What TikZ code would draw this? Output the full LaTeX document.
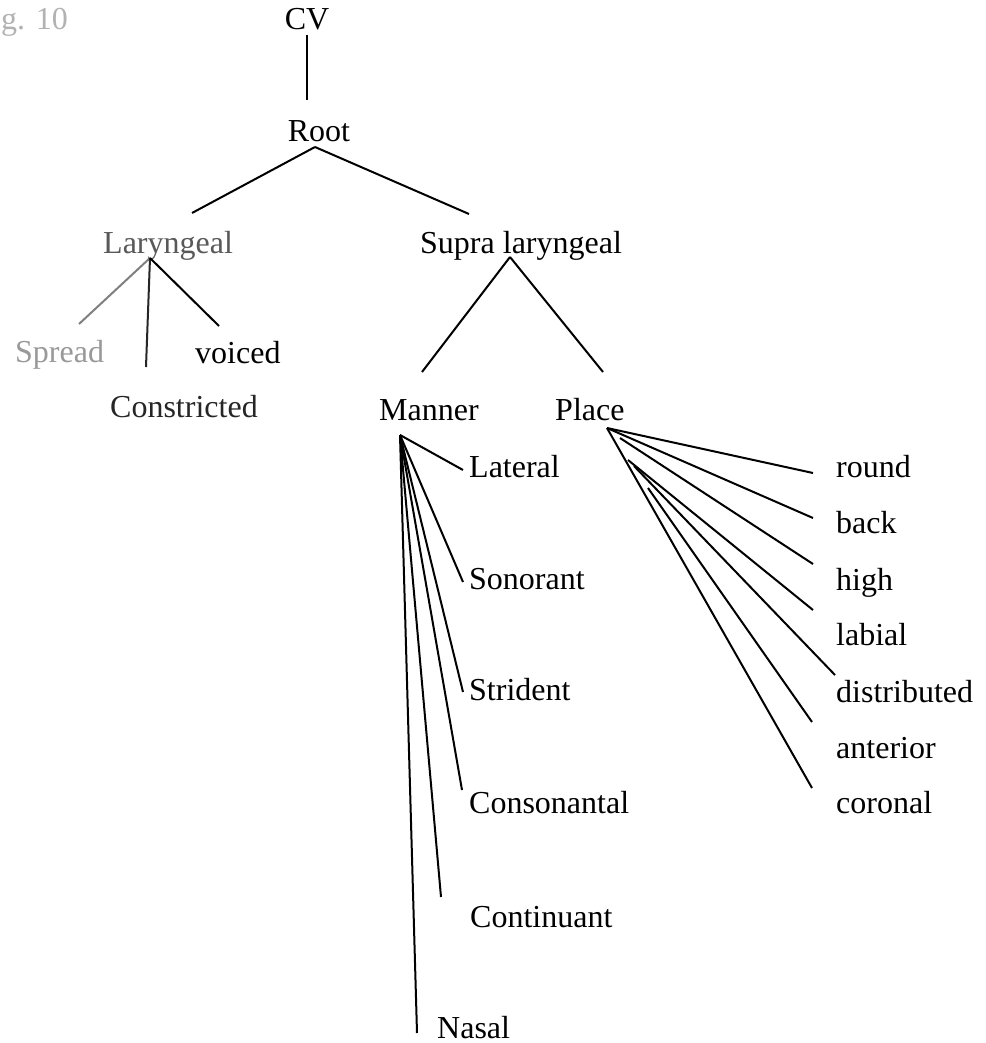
\documentclass[tikz,border=0pt]{standalone}
\usepackage{fontspec}
\setmainfont{Liberation Serif}
\begin{document}
\begin{tikzpicture}[x=1pt,y=-1pt,
  lbl/.style={inner sep=0pt,anchor=base west,font=\fontsize{32}{37}\selectfont},
  lblc/.style={lbl,anchor=base},
  edge/.style={line width=2pt,black},
  faint/.style={line width=2pt,black!50}]
\useasboundingbox (0,0) rectangle (985,1043);
\fill[white] (0,0) rectangle (985,1043);
% labels
\node[lbl,text=black!30] (fig) at (1,30) {g. 10};
\node[lblc] (cv) at (307,30) {CV};
\node[lblc] (root) at (319,142) {Root};
\node[lbl,text=black!65] (lar) at (103,253) {Laryngeal};
\node[lbl] (sup) at (420,253) {Supra laryngeal};
\node[lbl,text=black!40] (spr) at (15,362) {Spread};
\node[lbl] (voi) at (195,363) {voiced};
\node[lbl,text=black!85] (con) at (110,417) {Constricted};
\node[lbl] (man) at (379,420) {Manner};
\node[lbl] (pla) at (555,420) {Place};
\node[lbl] (lat) at (469,477) {Lateral};
\node[lbl] (son) at (469,589) {Sonorant};
\node[lbl] (str) at (469,700) {Strident};
\node[lbl] (cons) at (469,813) {Consonantal};
\node[lbl] (cont) at (470,927) {Continuant};
\node[lbl] (nas) at (437,1038) {Nasal};
\node[lbl] (rou) at (836,477) {round};
\node[lbl] (bac) at (836,533) {back};
\node[lbl] (hig) at (836,590) {high};
\node[lbl] (lab) at (836,645) {labial};
\node[lbl] (dis) at (836,702) {distributed};
\node[lbl] (ant) at (836,758) {anterior};
\node[lbl] (cor) at (836,813) {coronal};
% connector points
\coordinate (cvB) at (307,35);
\coordinate (rootT) at (307,100);
\coordinate (rootB) at (315,147);
\coordinate (larT) at (192,213);
\coordinate (supT) at (469,214);
\coordinate (larB) at (150,258);
\coordinate (sprT) at (79,324);
\coordinate (conT) at (146,367);
\coordinate (voiT) at (219,326);
\coordinate (supB) at (510,257);
\coordinate (manT) at (422,372);
\coordinate (plaT) at (603,372);
\coordinate (manB) at (400,435);
\coordinate (latE) at (463,470);
\coordinate (sonE) at (463,582);
\coordinate (strE) at (463,692);
\coordinate (consE) at (462,790);
\coordinate (contE) at (441,897);
\coordinate (nasE) at (417,1033);
\coordinate (plaB) at (607,428);
\coordinate (plaB2) at (620,438);
\coordinate (plaB3) at (628,460);
\coordinate (plaB4) at (634,466);
\coordinate (plaB5) at (648,488);
\coordinate (rouE) at (813,473);
\coordinate (bacE) at (813,518);
\coordinate (higE) at (813,564);
\coordinate (labE) at (813,610);
\coordinate (disE) at (835,675);
\coordinate (antE) at (812,722);
\coordinate (corE) at (812,788);
% connectors
\draw[edge] (cvB) -- (rootT);
\draw[edge] (rootB) -- (larT);
\draw[edge] (rootB) -- (supT);
\draw[faint] (larB) -- (sprT);
\draw[edge,black!85] (larB) -- (conT);
\draw[edge] (larB) -- (voiT);
\draw[edge] (supB) -- (manT);
\draw[edge] (supB) -- (plaT);
\draw[edge] (manB) -- (latE);
\draw[edge] (manB) -- (sonE);
\draw[edge] (manB) -- (strE);
\draw[edge] (manB) -- (consE);
\draw[edge] (manB) -- (contE);
\draw[edge] (manB) -- (nasE);
\draw[edge] (plaB) -- (rouE);
\draw[edge] (plaB) -- (bacE);
\draw[edge] (plaB2) -- (higE);
\draw[edge] (plaB3) -- (labE);
\draw[edge] (plaB4) -- (disE);
\draw[edge] (plaB5) -- (antE);
\draw[edge] (plaB) -- (corE);
\end{tikzpicture}
\end{document}
